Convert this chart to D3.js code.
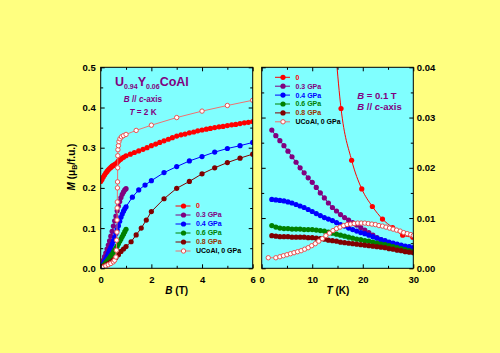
<!DOCTYPE html>
<html><head><meta charset="utf-8">
<script src="https://cdn.jsdelivr.net/npm/d3@7"></script>
<style>
html,body{margin:0;padding:0;background:#FFFF80;}
svg{display:block;}
text{font-family:"Liberation Sans",Arial,sans-serif;font-weight:bold;}
</style></head><body>
<svg id="chart" width="500" height="353"></svg>
<script>
// ---------- DATA : left panel, M vs B at T = 2 K ----------
const seriesNames = ["0", "0.3 GPa", "0.4 GPa", "0.6 GPa", "0.8 GPa", "UCoAl, 0 GPa"];

const fieldB_0  = [0,0.05,0.1,0.15,0.2,0.25,0.3,0.35,0.4,0.45,0.5,0.55,0.6,0.65,0.7,0.75,0.8,0.9,1.0,1.17,1.33,1.5,1.67,1.83,2.0,2.17,2.33,2.5,2.67,2.83,3.0,3.17,3.33,3.5,3.67,3.83,4.0,4.17,4.33,4.5,4.67,4.83,5.0,5.17,5.33,5.5,5.67,5.83,6.0];
const momentB_0 = [0.216,0.221,0.227,0.232,0.237,0.241,0.245,0.248,0.251,0.254,0.256,0.258,0.260,0.263,0.267,0.270,0.272,0.276,0.280,0.284,0.288,0.292,0.296,0.300,0.305,0.309,0.313,0.317,0.321,0.325,0.329,0.332,0.334,0.337,0.339,0.342,0.344,0.346,0.348,0.350,0.352,0.353,0.355,0.357,0.358,0.360,0.362,0.363,0.365];

const fieldB_03  = [0,0.05,0.1,0.15,0.2,0.25,0.3,0.35,0.4,0.45,0.5,0.55,0.6,0.65,0.7,0.75,0.8,0.85,0.9,0.95,1.0];
const momentB_03 = [0.005,0.012,0.020,0.029,0.038,0.048,0.058,0.068,0.080,0.092,0.105,0.118,0.130,0.143,0.155,0.166,0.176,0.184,0.190,0.195,0.198];

const fieldB_04  = [0,0.05,0.1,0.15,0.2,0.25,0.3,0.35,0.4,0.45,0.5,0.55,0.6,0.65,0.7,0.75,0.8,0.85,0.9,0.95,1.0,1.25,1.5,1.75,2.0,2.5,3.0,3.5,4.0,4.5,5.0,5.5,6.0];
const momentB_04 = [0.002,0.006,0.011,0.017,0.023,0.030,0.037,0.045,0.052,0.060,0.068,0.077,0.086,0.096,0.106,0.117,0.127,0.135,0.142,0.148,0.153,0.177,0.195,0.207,0.218,0.238,0.253,0.267,0.278,0.289,0.298,0.305,0.313];

const fieldB_06  = [0,0.05,0.1,0.15,0.2,0.25,0.3,0.35,0.4,0.45,0.5,0.55,0.6,0.65,0.7,0.75,0.8,0.85,0.9,0.95,1.0];
const momentB_06 = [0.002,0.004,0.007,0.010,0.014,0.018,0.022,0.026,0.031,0.035,0.040,0.045,0.050,0.055,0.061,0.067,0.073,0.079,0.085,0.091,0.097];

const fieldB_08  = [0,0.1,0.2,0.3,0.4,0.5,0.6,0.7,0.8,0.9,1.0,1.2,1.4,1.6,1.8,2.0,2.5,3.0,3.5,4.0,4.5,5.0,5.5,6.0];
const momentB_08 = [0.002,0.005,0.008,0.012,0.016,0.021,0.027,0.034,0.042,0.048,0.054,0.066,0.083,0.100,0.120,0.141,0.173,0.199,0.216,0.235,0.250,0.263,0.274,0.284];

const fieldB_U  = [0,0.1,0.2,0.3,0.4,0.5,0.55,0.6,0.62,0.63,0.64,0.645,0.65,0.655,0.66,0.665,0.67,0.675,0.68,0.7,0.72,0.76,0.82,0.9,1.0,1.4,2.0,3.0,4.0,5.0,6.0];
const momentB_U = [0.001,0.003,0.006,0.009,0.012,0.016,0.020,0.028,0.045,0.070,0.090,0.120,0.150,0.165,0.200,0.215,0.250,0.280,0.295,0.305,0.315,0.322,0.327,0.330,0.333,0.343,0.356,0.375,0.391,0.405,0.418];

// ---------- DATA : right panel, M vs T at B = 0.1 T ----------
const tempT_0  = [13.7,15.7,17.8,19.8,21.9,23.9,25.9,27.9,29.9];
const momentT_0 = [0.056,0.0318,0.0215,0.0158,0.0123,0.0098,0.0081,0.0066,0.0062];

const tempGrid = [2.0,2.8,3.6,4.4,5.2,6.0,6.8,7.6,8.4,9.2,10.0,10.8,11.6,12.4,13.2,14.0,14.8,15.6,16.4,17.2,18.0,18.8,19.6,20.4,21.2,22.0,22.8,23.6,24.4,25.2,26.0,26.8,27.6,28.4,29.2,30.0];
const momentT_03 = [0.0275,0.0264,0.0254,0.0244,0.0233,0.0222,0.0211,0.0200,0.0190,0.0180,0.0171,0.0161,0.0150,0.0140,0.0130,0.0121,0.0114,0.0107,0.0101,0.0096,0.0091,0.0086,0.0081,0.0076,0.0071,0.0066,0.0061,0.0057,0.0054,0.0051,0.0049,0.0047,0.0045,0.0043,0.0042,0.0040];
const momentT_04 = [0.0137,0.0136,0.0135,0.0134,0.0132,0.0130,0.0127,0.0124,0.0121,0.0117,0.0113,0.0109,0.0105,0.0101,0.0098,0.0095,0.0091,0.0087,0.0084,0.0080,0.0077,0.0074,0.0071,0.0069,0.0066,0.0063,0.0060,0.0057,0.0055,0.0052,0.0050,0.0048,0.0046,0.0044,0.0043,0.0041];
const momentT_06 = [0.0085,0.0082,0.0080,0.0079,0.0079,0.0078,0.0078,0.0078,0.0077,0.0077,0.0077,0.0076,0.0075,0.0074,0.0072,0.0070,0.0068,0.0066,0.0064,0.0062,0.0060,0.0058,0.0057,0.0055,0.0054,0.0052,0.0050,0.0048,0.0047,0.0045,0.0043,0.0041,0.0039,0.0037,0.0035,0.0033];
const momentT_08 = [0.0065,0.0064,0.0063,0.0063,0.0063,0.0062,0.0062,0.0062,0.0062,0.0061,0.0061,0.0060,0.0059,0.0058,0.0056,0.0055,0.0054,0.0052,0.0051,0.0050,0.0049,0.0048,0.0047,0.0046,0.0045,0.0044,0.0043,0.0042,0.0041,0.0039,0.0038,0.0036,0.0035,0.0033,0.0032,0.0031];

const tempT_U  = [1.3,2.8,3.6,4.3,5.0,5.7,6.4,7.1,7.8,8.5,9.2,9.9,10.6,11.3,12.0,12.7,13.4,14.1,14.8,15.5,16.2,16.9,17.6,18.3,19.0,19.7,20.4,21.1,21.8,22.5,23.2,23.9,24.6,25.3,26.0,26.7,27.4,28.1,28.8,29.5,30.0];
const momentT_U = [0.0021,0.0021,0.0023,0.0025,0.0027,0.0029,0.0031,0.0033,0.0035,0.0038,0.0041,0.0045,0.0049,0.0054,0.0059,0.0065,0.0070,0.0075,0.0079,0.0082,0.0085,0.0087,0.0088,0.0089,0.0090,0.0090,0.0090,0.0089,0.0088,0.0087,0.0085,0.0084,0.0082,0.0080,0.0078,0.0076,0.0074,0.0071,0.0069,0.0067,0.0065];

// ---------- Tick labels ----------
const leftYTicks = [0,0.1,0.2,0.3,0.4,0.5];
const leftXTicks = [0,2,4,6];
const rightYTicks = [0,0.01,0.02,0.03,0.04];
const rightXTicks = [0,10,20,30];

// ---------- STYLE ----------
const colors = ["#FF0000","#800080","#0000FF","#008000","#800000","#F07070"];
const textColors = ["#FF0000","#800080","#0000FF","#008000","#993300","#000000"];
const FONT = '"Liberation Sans", Arial, sans-serif';
const R_FILLED = 2.6, R_OPEN = 2.2;

const svg = d3.select("#chart");
svg.append("rect").attr("width",500).attr("height",353).attr("fill","#FFFF80");

const xB = d3.scaleLinear().domain([0,6]).range([100.7,252.7]);
const yM = d3.scaleLinear().domain([0,0.5]).range([268.3,67.3]);
const xT = d3.scaleLinear().domain([0,30]).range([261.7,413.3]);
const yR = d3.scaleLinear().domain([0,0.04]).range([268.3,67.3]);

const defs = svg.append("defs");
defs.append("clipPath").attr("id","clipL").append("rect")
  .attr("x",xB(0)).attr("y",yM(0.5)).attr("width",xB(6)-xB(0)).attr("height",yM(0)-yM(0.5));
defs.append("clipPath").attr("id","clipR").append("rect")
  .attr("x",xT(0)).attr("y",yR(0.04)).attr("width",xT(30)-xT(0)).attr("height",yR(0)-yR(0.04));

function panelBg(x, y) {
  svg.append("rect").attr("x",x.range()[0]).attr("y",y.range()[1])
    .attr("width",x.range()[1]-x.range()[0]).attr("height",y.range()[0]-y.range()[1])
    .attr("fill","#80FFFF");
}
panelBg(xB, yM);
panelBg(xT, yR);

function drawSeries(g, x, y, xs, ys, i, curve) {
  const pts = d3.zip(xs, ys);
  const line = d3.line().x(d=>x(d[0])).y(d=>y(d[1])).curve(curve || d3.curveLinear);
  g.append("path").datum(pts).attr("d",line).attr("fill","none")
    .attr("stroke",colors[i]).attr("stroke-width",1);
  const open = i === 5;
  g.selectAll(null).data(pts).enter().append("circle")
    .attr("cx",d=>x(d[0])).attr("cy",d=>y(d[1]))
    .attr("r", open ? R_OPEN : R_FILLED)
    .attr("fill", open ? "#FFFFFF" : colors[i])
    .attr("stroke", open ? "#E85050" : "none")
    .attr("stroke-width", open ? 1 : 0);
}

// left panel data
const gL = svg.append("g").attr("clip-path","url(#clipL)");
drawSeries(gL, xB, yM, fieldB_0, momentB_0, 0);
drawSeries(gL, xB, yM, fieldB_03, momentB_03, 1);
drawSeries(gL, xB, yM, fieldB_04, momentB_04, 2);
drawSeries(gL, xB, yM, fieldB_06, momentB_06, 3);
drawSeries(gL, xB, yM, fieldB_08, momentB_08, 4);
drawSeries(gL, xB, yM, fieldB_U, momentB_U, 5);

// right panel data
const gR = svg.append("g").attr("clip-path","url(#clipR)");
drawSeries(gR, xT, yR, tempT_0, momentT_0, 0, d3.curveMonotoneX);
drawSeries(gR, xT, yR, tempGrid, momentT_03, 1);
drawSeries(gR, xT, yR, tempGrid, momentT_04, 2);
drawSeries(gR, xT, yR, tempGrid, momentT_06, 3);
drawSeries(gR, xT, yR, tempGrid, momentT_08, 4);
drawSeries(gR, xT, yR, tempT_U, momentT_U, 5);

// axes
function styleAxis(sel, fontSize) {
  sel.select(".domain").remove();
  sel.selectAll("line").attr("stroke","#000").attr("stroke-width",1);
  sel.selectAll("text").attr("font-family",FONT).attr("font-weight","bold")
     .attr("font-size",fontSize).attr("fill","#000");
}
function minors(majors, step) {
  return majors.slice(0,-1).map(v => v + step/2);
}
function addAxis(axisGen, transform, majors, minorVals, fmt, pad, showLabels) {
  const g1 = svg.append("g").attr("transform",transform)
    .call(axisGen.tickValues(majors).tickSize(-4).tickPadding(pad)
      .tickFormat(showLabels ? fmt : ""));
  styleAxis(g1, "9.5px");
  const g2 = svg.append("g").attr("transform",transform)
    .call(axisGen.tickValues(minorVals).tickSize(-2.5).tickFormat(""));
  styleAxis(g2, "9.5px");
}
const fmt1 = d3.format(".1f"), fmt2 = d3.format(".2f"), fmt0 = d3.format("d");
// left panel
addAxis(d3.axisLeft(yM), `translate(${xB(0)},0)`, leftYTicks, minors(leftYTicks,0.1), fmt1, 5, true);
addAxis(d3.axisRight(yM), `translate(${xB(6)},0)`, leftYTicks, minors(leftYTicks,0.1), fmt1, 5, false);
addAxis(d3.axisBottom(xB), `translate(0,${yM(0)})`, leftXTicks, minors(leftXTicks,2), fmt0, 7.5, true);
addAxis(d3.axisTop(xB), `translate(0,${yM(0.5)})`, leftXTicks, minors(leftXTicks,2), fmt0, 5, false);
// right panel
addAxis(d3.axisRight(yR), `translate(${xT(30)},0)`, rightYTicks, minors(rightYTicks,0.01), fmt2, 3.5, true);
addAxis(d3.axisLeft(yR), `translate(${xT(0)},0)`, rightYTicks, minors(rightYTicks,0.01), fmt2, 5, false);
addAxis(d3.axisBottom(xT), `translate(0,${yR(0)})`, rightXTicks, minors(rightXTicks,10), fmt0, 7.5, true);
addAxis(d3.axisTop(xT), `translate(0,${yR(0.04)})`, rightXTicks, minors(rightXTicks,10), fmt0, 5, false);

// frames
function frame(x, y) {
  svg.append("rect").attr("x",x.range()[0]).attr("y",y.range()[1])
    .attr("width",x.range()[1]-x.range()[0]).attr("height",y.range()[0]-y.range()[1])
    .attr("fill","none").attr("stroke","#000").attr("stroke-width",1);
}
frame(xB, yM);
frame(xT, yR);

// axis titles
const yt = svg.append("text").attr("transform","translate(74.5,167) rotate(-90)")
  .attr("text-anchor","middle").attr("font-size","10px").attr("fill","#000");
yt.append("tspan").attr("font-style","italic").text("M");
yt.append("tspan").text(" (\u03bc");
yt.append("tspan").attr("font-size","7px").attr("dy",2).text("B");
yt.append("tspan").attr("dy",-2).text("/f.u.)");

const xt1 = svg.append("text").attr("x",176.7).attr("y",293.5).attr("text-anchor","middle")
  .attr("font-size","10px").attr("fill","#000");
xt1.append("tspan").attr("font-style","italic").text("B");
xt1.append("tspan").text(" (T)");
const xt2 = svg.append("text").attr("x",338).attr("y",293.5).attr("text-anchor","middle")
  .attr("font-size","10px").attr("fill","#000");
xt2.append("tspan").attr("font-style","italic").text("T");
xt2.append("tspan").text(" (K)");

// left annotations
const purple = "#800080";
const ttl = svg.append("text").attr("x",115).attr("y",86).attr("font-size","12.5px").attr("fill",purple);
ttl.append("tspan").text("U");
ttl.append("tspan").attr("font-size","7px").attr("dy",3).text("0.94");
ttl.append("tspan").attr("dy",-3).text("Y");
ttl.append("tspan").attr("font-size","7px").attr("dy",3).text("0.06");
ttl.append("tspan").attr("dy",-3).text("CoAl");

const a1 = svg.append("text").attr("x",143).attr("y",101.7).attr("text-anchor","middle")
  .attr("font-size","8.2px").attr("fill",purple);
a1.append("tspan").attr("font-style","italic").text("B");
a1.append("tspan").text(" // ");
a1.append("tspan").attr("font-style","italic").text("c");
a1.append("tspan").text("-axis");
const a2 = svg.append("text").attr("x",143).attr("y",115).attr("text-anchor","middle")
  .attr("font-size","8.2px").attr("fill",purple);
a2.append("tspan").attr("font-style","italic").text("T");
a2.append("tspan").text(" = 2 K");

// right annotations
const r1 = svg.append("text").attr("x",357.3).attr("y",99.3).attr("font-size","9.5px").attr("fill",purple);
r1.append("tspan").attr("font-style","italic").text("B");
r1.append("tspan").text(" = 0.1 T");
const r2 = svg.append("text").attr("x",357.3).attr("y",110).attr("font-size","9.5px").attr("fill",purple);
r2.append("tspan").attr("font-style","italic").text("B");
r2.append("tspan").text(" // ");
r2.append("tspan").attr("font-style","italic").text("c");
r2.append("tspan").text("-axis");

// legends
function legend(x0, y0, dy) {
  seriesNames.forEach((name, i) => {
    const y = y0 + i*dy;
    svg.append("line").attr("x1",x0).attr("x2",x0+15).attr("y1",y).attr("y2",y)
      .attr("stroke",colors[i]).attr("stroke-width",1);
    const open = i === 5;
    svg.append("circle").attr("cx",x0+8).attr("cy",y).attr("r",open?R_OPEN:R_FILLED)
      .attr("fill",open?"#FFFFFF":colors[i]).attr("stroke",open?"#E85050":"none")
      .attr("stroke-width",open?1:0);
    svg.append("text").attr("x",x0+20.5).attr("y",y).attr("dy","0.35em")
      .attr("font-size","7px").attr("fill",textColors[i]).text(name);
  });
}
legend(175.5, 206, 9.0);
legend(275, 77.3, 8.9);
</script>
</body></html>
